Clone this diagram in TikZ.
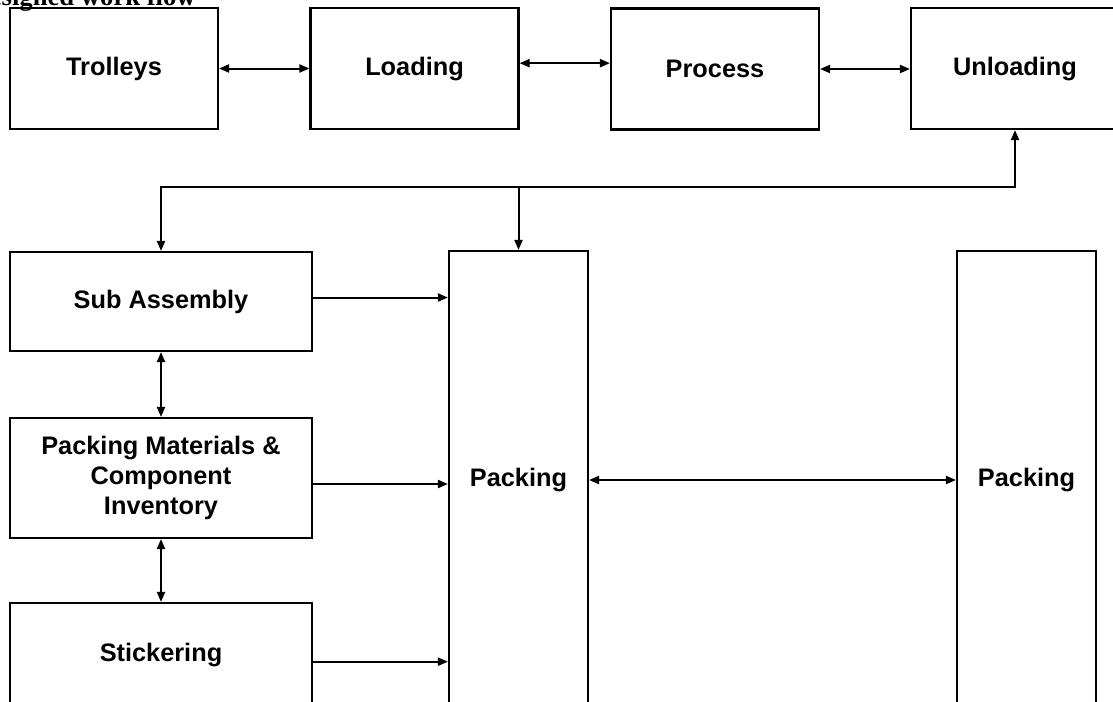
\documentclass[tikz,border=0pt]{standalone}
\usepackage{fontspec}
\setmainfont{Liberation Sans}
\newfontfamily\titlefont{Liberation Serif}
\usetikzlibrary{arrows.meta,calc,positioning}

\begin{document}
\begin{tikzpicture}[x=0.75pt,y=-0.75pt,
  >={Triangle[length=7.5pt,width=6pt]},
  box/.style={draw,line width=1.6pt,inner sep=0pt,align=center,
    font=\bfseries\fontsize{19}{22.5}\selectfont},
  topbox/.style={box,minimum width=156pt,minimum height=90.75pt},
  leftbox/.style={box,minimum width=226.5pt},
  tallbox/.style={box,minimum width=104.25pt,minimum height=343.5pt},
  link/.style={line width=1.5pt}]
\useasboundingbox (0,0) rectangle (1113,701);
\clip (0,0) rectangle (1113,701);
% title, cut by the top edge
\node[anchor=base east,inner sep=0pt,font=\titlefont\bfseries\fontsize{20}{24}\selectfont] (title) at (196,5) {Redesigned work flow};
% top row
\node[topbox] (trolleys) at (114,68.5) {Trolleys};
\node[topbox] (loading) at (414.5,68.5) {Loading};
\node[topbox] (process) at (715,69) {Process};
\node[topbox] (unloading) at (1015,68.5) {Unloading};
% left column
\node[leftbox,minimum height=74.25pt] (subassy) at (161,301.5) {Sub Assembly};
\node[leftbox,minimum height=90pt] (inventory) at (161,478) {Packing Materials \&\\ Component\\ Inventory};
\node[leftbox,minimum height=78pt] (sticker) at (161,655) {Stickering};
% packing lines
\node[tallbox] (packing) at (518.5,480) {Packing};
\node[tallbox] (packing2) at (1026.5,480) {Packing};
\coordinate (bus) at (518.5,187);
% top connectors
\draw[link,<->] (trolleys.east) -- (loading.west);
\draw[link,<->] ([yshift=4pt]loading.east) -- ([yshift=4pt]loading.east -| process.west);
\draw[link,<->] (process.east) -- (process.east -| unloading.west);
% return bus
\draw[link,<->] (subassy.north) |- (bus -| unloading.south) -- (unloading.south);
\draw[link,->] (bus) -- (packing.north);
% feeds into packing
\draw[link,->] ([yshift=3pt]subassy.east) -- ([yshift=3pt]subassy.east -| packing.west);
\draw[link,->] ([yshift=-4.5pt]inventory.east) -- ([yshift=-4.5pt]inventory.east -| packing.west);
\draw[link,->] ([yshift=-5pt]sticker.east) -- ([yshift=-5pt]sticker.east -| packing.west);
\draw[link,<->] (subassy.south) -- (inventory.north);
\draw[link,<->] (inventory.south) -- (sticker.north);
\draw[link,<->] (packing.east) -- (packing2.west);
\end{tikzpicture}
\end{document}
